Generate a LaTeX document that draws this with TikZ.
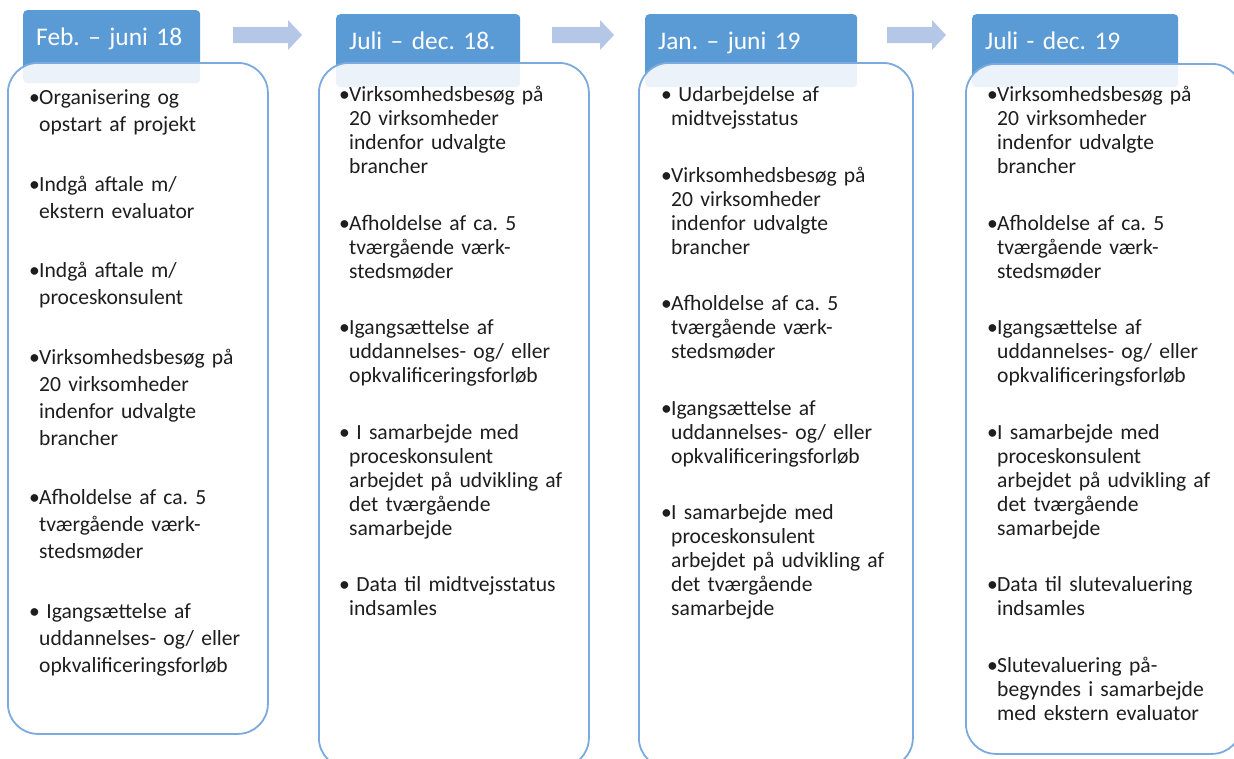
\documentclass[tikz,border=0pt]{standalone}
\usepackage{fontspec}
\setmainfont{Carlito}
\usetikzlibrary{positioning}
\definecolor{tabblue}{RGB}{91,155,213}
\definecolor{cardline}{RGB}{125,170,222}
\definecolor{flowblue}{RGB}{180,199,231}
\definecolor{ink}{RGB}{30,30,30}
\setlength{\parskip}{0pt}
\frenchspacing
% one bullet point, hanging indent
\newcommand{\pkt}[1]{\par{\raggedright\let\\\newline\hangindent=10pt\hangafter=1\noindent
  \makebox[10pt][l]{\rule{0pt}{18pt}\textbullet}#1\par}\vspace{32.5pt}}
\tikzset{
  tab/.style={fill=tabblue, rounded corners=4pt, anchor=north west, minimum height=73pt,
    inner xsep=13pt, inner ysep=0pt, text height=17pt, text depth=20pt, text=white,
    font=\fontsize{25.4}{30}\selectfont, align=left},
  card/.style={draw=cardline, line width=1.8pt, fill=white, fill opacity=0.88,
    rounded corners=30pt, anchor=north west, inner sep=0pt},
  items/.style={anchor=north west, inner sep=0pt, text width=245pt, text=ink,
    font=\fontsize{21.6}{24}\selectfont},
  flow/.style={fill=flowblue}
}

\begin{document}
\begin{tikzpicture}[x=1pt, y=-1pt]
  \useasboundingbox (0,0) rectangle (1234,758);
  \clip (0,0) rectangle (1234,758);

  % period tabs
  \node [tab, text width=151pt] (t1) at (23,10) {Feb. – juni 18};
  \node [tab, text width=158pt] (t2) at (336,14) {Juli – dec. 18.};
  \node [tab, text width=186pt] (t3) at (645,14) {Jan. – juni 19};
  \node [tab, text width=180pt] (t4) at (972,14) {Juli - dec. 19};

  % arrows between the tabs
  \foreach \x/\l in {233/55, 552/48, 887/45} {
    \fill [flow] (\x,27) -- ++(\l,0) -- ++(0,-7) -- ++(14,15) -- ++(-14,15) -- ++(0,-7) -- ++(-\l,0) -- cycle;
  }

  % cards
  \node [card, minimum width=260pt, minimum height=671pt] (k1) at (7,62) {};
  \node [card, minimum width=270pt, minimum height=705pt] (k2) at (318,62) {};
  \node [card, minimum width=274pt, minimum height=705pt] (k3) at (638,62) {};
  \node [card, minimum width=276pt, minimum height=690pt] (k4) at (965,63) {};

  % activities
  \node [items, font=\fontsize{21.6}{27}\selectfont] (l1) at (29,77.5) {%
    \pkt{Organisering og\\opstart af projekt}
    \pkt{Indgå aftale m/\\ekstern evaluator}
    \pkt{Indgå aftale m/\\proceskonsulent}
    \pkt{Virksomhedsbesøg på\\20 virksomheder\\indenfor udvalgte\\brancher}
    \pkt{Afholdelse af ca. 5\\tværgående værk-\\stedsmøder}
    \pkt{\ Igangsættelse af\\uddannelses- og/ eller\\opkvalificeringsforløb}};

  \node [items] (l2) at (339,77.5) {%
    \pkt{Virksomhedsbesøg på\\20 virksomheder\\indenfor udvalgte\\brancher}
    \pkt{Afholdelse af ca. 5\\tværgående værk-\\stedsmøder}
    \pkt{Igangsættelse af\\uddannelses- og/ eller\\opkvalificeringsforløb}
    \pkt{\ I samarbejde med\\proceskonsulent\\arbejdet på udvikling af\\det tværgående\\samarbejde}
    \pkt{\ Data til midtvejsstatus\\indsamles}};

  \node [items] (l3) at (661,77.5) {%
    \pkt{\ Udarbejdelse af\\midtvejsstatus}
    \pkt{Virksomhedsbesøg på\\20 virksomheder\\indenfor udvalgte\\brancher}
    \pkt{Afholdelse af ca. 5\\tværgående værk-\\stedsmøder}
    \pkt{Igangsættelse af\\uddannelses- og/ eller\\opkvalificeringsforløb}
    \pkt{I samarbejde med\\proceskonsulent\\arbejdet på udvikling af\\det tværgående\\samarbejde}};

  \node [items] (l4) at (987,77.5) {%
    \pkt{Virksomhedsbesøg på\\20 virksomheder\\indenfor udvalgte\\brancher}
    \pkt{Afholdelse af ca. 5\\tværgående værk-\\stedsmøder}
    \pkt{Igangsættelse af\\uddannelses- og/ eller\\opkvalificeringsforløb}
    \pkt{I samarbejde med\\proceskonsulent\\arbejdet på udvikling af\\det tværgående\\samarbejde}
    \pkt{Data til slutevaluering\\indsamles}
    \pkt{Slutevaluering på-\\begyndes i samarbejde\\med ekstern evaluator}};
\end{tikzpicture}
\end{document}
